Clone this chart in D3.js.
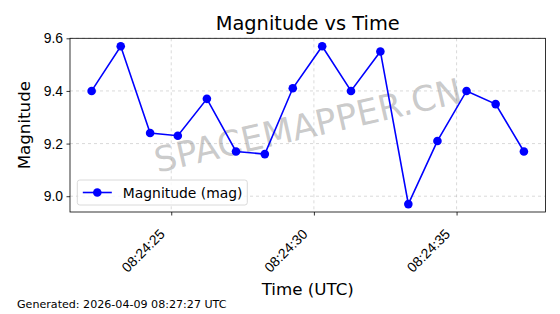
<!DOCTYPE html>
<html>
<head>
<meta charset="utf-8">
<script src="https://cdn.jsdelivr.net/npm/d3@7"></script>
<style>
  body { margin: 0; background: #fff; }
  svg { display: block; font-family: "DejaVu Sans", sans-serif; }
</style>
</head>
<body>
<svg id="chart"></svg>
<script>
// readings (UTC, 2026-04-09 08:24:xx)
var times = ["08:24:22.21", "08:24:23.23", "08:24:24.26", "08:24:25.23", "08:24:26.25",
  "08:24:27.27", "08:24:28.28", "08:24:29.26", "08:24:30.29", "08:24:31.30",
  "08:24:32.33", "08:24:33.31", "08:24:34.33", "08:24:35.35", "08:24:36.37", "08:24:37.36"];
var mags = [9.40, 9.57, 9.24, 9.23, 9.37, 9.17, 9.16, 9.41, 9.57, 9.40, 9.55, 8.97, 9.21, 9.40, 9.35, 9.17];
var yTicks = [9.0, 9.2, 9.4, 9.6];
var seriesName = "Magnitude (mag)";
var generated = "Generated: 2026-04-09 08:27:27 UTC";

var W = 560, H = 314;
var margin = {top: 38.3, right: 14.5, bottom: 102, left: 70},
    width = W - margin.left - margin.right,
    height = H - margin.top - margin.bottom;

var data = times.map(function(t, i) {
  return {date: new Date("2026-04-09T" + t + "Z"), mag: mags[i]};
});

// matplotlib style 5% padding
function pad(ext) {
  var d = ext[1] - ext[0];
  return [ext[0] - d * 0.05, +ext[1] + d * 0.05];
}

var xExt = d3.extent(data, function(d) { return d.date; });
var x = d3.scaleUtc()
    .domain(pad([+xExt[0], +xExt[1]]).map(function(v) { return new Date(v); }))
    .range([0, width]);
var y = d3.scaleLinear()
    .domain(pad(d3.extent(data, function(d) { return d.mag; })))
    .range([height, 0]);

var svg = d3.select("#chart").attr("width", W).attr("height", H);

var g = svg.append("g")
    .attr("transform", "translate(" + margin.left + "," + margin.top + ")");

var xTickVals = x.ticks(d3.utcSecond.every(5));

// grid
g.append("g").selectAll("line")
    .data(xTickVals)
  .enter().append("line")
    .attr("x1", function(d) { return x(d); })
    .attr("x2", function(d) { return x(d); })
    .attr("y1", 0).attr("y2", height)
    .style("stroke", "#b0b0b0").style("stroke-opacity", 0.6)
    .style("stroke-width", 0.8).style("stroke-dasharray", "3,3");
g.append("g").selectAll("line")
    .data(yTicks)
  .enter().append("line")
    .attr("x1", 0).attr("x2", width)
    .attr("y1", function(d) { return y(d); })
    .attr("y2", function(d) { return y(d); })
    .style("stroke", "#b0b0b0").style("stroke-opacity", 0.6)
    .style("stroke-width", 0.8).style("stroke-dasharray", "3,3");

// watermark
g.append("text")
    .attr("transform", "translate(" + (width / 2) + "," + (height / 2) + ") rotate(-13)")
    .attr("text-anchor", "middle")
    .attr("dy", "0.36em")
    .style("font-size", "35px")
    .style("fill", "#808080")
    .style("fill-opacity", 0.42)
    .text("SPACEMAPPER.CN");

// line + markers
var line = d3.line()
    .x(function(d) { return x(d.date); })
    .y(function(d) { return y(d.mag); });

g.append("path")
    .datum(data)
    .attr("d", line)
    .style("fill", "none")
    .style("stroke", "#0000ff")
    .style("stroke-width", 1.6);

g.append("g").selectAll("circle")
    .data(data)
  .enter().append("circle")
    .attr("cx", function(d) { return x(d.date); })
    .attr("cy", function(d) { return y(d.mag); })
    .attr("r", 4.3)
    .style("fill", "#0000ff");

// axes
var xAxis = d3.axisBottom(x)
    .tickValues(xTickVals)
    .tickSize(3.5).tickPadding(3)
    .tickFormat(d3.utcFormat("%H:%M:%S"));
var yAxis = d3.axisLeft(y)
    .tickValues(yTicks)
    .tickSize(3.5).tickPadding(3.5)
    .tickFormat(d3.format(".1f"));

var gx = g.append("g")
    .attr("transform", "translate(0," + height + ")")
    .call(xAxis);
gx.select(".domain").remove();
gx.selectAll("line").style("stroke", "#000").style("stroke-width", 0.8);
gx.selectAll("text")
    .style("font-size", "13.9px")
    .style("fill", "#000")
    .attr("text-anchor", "end")
    .attr("y", 0).attr("dy", 0)
    .attr("transform", "translate(-6,23) rotate(-45)");

var gy = g.append("g").call(yAxis);
gy.select(".domain").remove();
gy.selectAll("line").style("stroke", "#000").style("stroke-width", 0.8);
gy.selectAll("text").style("font-size", "13.9px").style("fill", "#000");

// frame
g.append("rect")
    .attr("width", width).attr("height", height)
    .style("fill", "none").style("stroke", "#000").style("stroke-width", 0.8);

// legend
var lg = g.append("g").attr("transform", "translate(7.3," + (height - 32) + ")");
lg.append("rect")
    .attr("width", 170).attr("height", 25).attr("rx", 2.5)
    .style("fill", "#fff").style("fill-opacity", 0.8)
    .style("stroke", "#d0d0d0").style("stroke-width", 0.8);
lg.append("line")
    .attr("x1", 5.5).attr("x2", 34.5).attr("y1", 12.5).attr("y2", 12.5)
    .style("stroke", "#0000ff").style("stroke-width", 1.6);
lg.append("circle").attr("cx", 20).attr("cy", 12.5).attr("r", 4.3).style("fill", "#0000ff");
lg.append("text")
    .attr("x", 45.5).attr("y", 17.5)
    .style("font-size", "13.9px")
    .text(seriesName);

// titles
svg.append("text")
    .attr("x", margin.left + width / 2).attr("y", 30)
    .attr("text-anchor", "middle")
    .style("font-size", "19.4px")
    .text("Magnitude vs Time");

svg.append("text")
    .attr("x", margin.left + width / 2).attr("y", 295)
    .attr("text-anchor", "middle")
    .style("font-size", "16.7px")
    .text("Time (UTC)");

svg.append("text")
    .attr("transform", "translate(30," + (margin.top + height / 2) + ") rotate(-90)")
    .attr("text-anchor", "middle")
    .style("font-size", "16.7px")
    .text("Magnitude");

svg.append("text")
    .attr("x", 17).attr("y", 308)
    .style("font-size", "11.1px")
    .text(generated);
</script>
</body>
</html>
